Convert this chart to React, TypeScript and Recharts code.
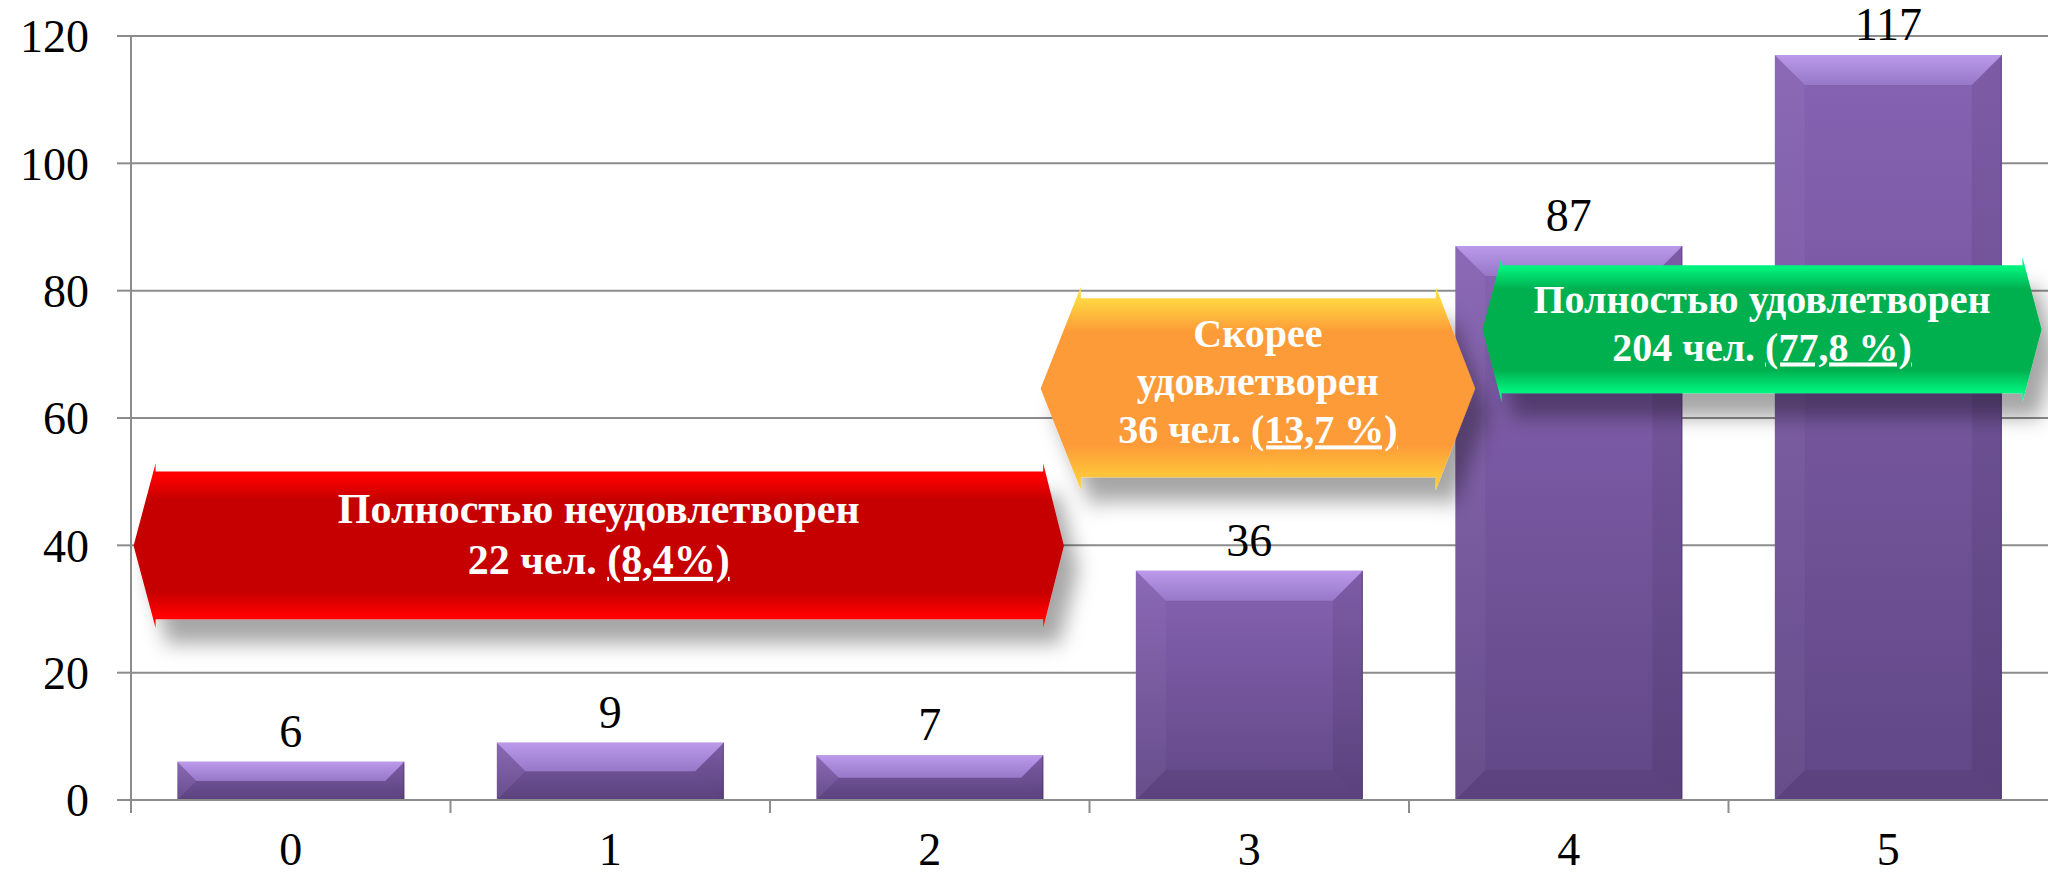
import React from 'react';
import { BarChart, Bar, XAxis, YAxis, CartesianGrid, LabelList, ReferenceArea } from 'recharts';

// ---------- data ----------
const categories = ['0', '1', '2', '3', '4', '5'];
const counts = [6, 9, 7, 36, 87, 117];
const yTicks = [0, 20, 40, 60, 80, 100, 120];

// annotation arrows: x in category units [tipL, baseL, baseR, tipR], y in value units [headTop, bodyTop, bodyBot, headBot]
const arrowX = [
  [0.008, 0.077, 2.855, 2.92],
  [2.847, 2.973, 4.084, 4.207],
  [4.23, 4.29, 5.92, 5.98],
];
const arrowY = [
  [52.9, 51.6, 28.4, 27.0],
  [80.6, 78.8, 50.7, 48.7],
  [85.3, 84.0, 63.9, 62.5],
];
type Seg = { t: string; u?: boolean };
const arrowLines: Seg[][][] = [
  [[{ t: 'Полностью неудовлетворен' }], [{ t: '22 чел. ' }, { t: '(8,4%)', u: true }]],
  [[{ t: 'Скорее' }], [{ t: 'удовлетворен' }], [{ t: '36 чел. ' }, { t: '(13,7 %)', u: true }]],
  [[{ t: 'Полностью удовлетворен' }], [{ t: '204 чел. ' }, { t: '(77,8 %)', u: true }]],
];

// ---------- styles ----------
const FONT = '"Liberation Serif", "Times New Roman", Times, serif';
const GRID = '#8c8c8c';
const W = 2048;
const H = 875;
const arrowStyle = [
  { grad: 'gRed', lh: 51, shift: -12, fs: 42 },
  { grad: 'gOrange', lh: 48, shift: -7, fs: 40 },
  { grad: 'gGreen', lh: 48, shift: -7, fs: 40 },
];

const data = categories.map((c, i) => ({ name: c, value: counts[i], u: i + 0.5 }));

const BevelBar = (p: any) => {
  const { x, y, width: w, height: h } = p;
  if (!h || h <= 0) return null;
  const b = Math.min(30, h / 2, w / 2);
  return (
    <g>
      <rect x={x} y={y} width={w} height={h} fill="url(#barBody)" />
      <polygon points={`${x},${y} ${x + b},${y + b} ${x + b},${y + h - b} ${x},${y + h}`} fill="#ffffff" fillOpacity={0.04} />
      <polygon points={`${x + w},${y} ${x + w},${y + h} ${x + w - b},${y + h - b} ${x + w - b},${y + b}`} fill="#000000" fillOpacity={0.07} />
      <polygon points={`${x},${y + h} ${x + b},${y + h - b} ${x + w - b},${y + h - b} ${x + w},${y + h}`} fill="#000000" fillOpacity={0.06} />
      <polygon points={`${x},${y} ${x + w},${y} ${x + w - b},${y + b} ${x + b},${y + b}`} fill="url(#barTop)" />
      <line x1={x + w - 0.5} y1={y} x2={x + w - 0.5} y2={y + h} stroke="#3e2d5a" strokeOpacity={0.5} strokeWidth={1} />
    </g>
  );
};

const makeArrow = (idx: number) => (props: any) => {
  const { x, y, width, height } = props;
  const gx = arrowX[idx];
  const gy = arrowY[idx];
  const st = arrowStyle[idx];
  const px = (u: number) => x + ((u - gx[0]) / (gx[3] - gx[0])) * width;
  const py = (v: number) => y + ((gy[0] - v) / (gy[0] - gy[3])) * height;
  const xl = px(gx[0]);
  const xbl = px(gx[1]);
  const xbr = px(gx[2]);
  const xr = px(gx[3]);
  const yht = py(gy[0]);
  const ybt = py(gy[1]);
  const ybb = py(gy[2]);
  const yhb = py(gy[3]);
  const cy = (yht + yhb) / 2;
  const cx = (xl + xr) / 2;
  const pts = [
    [xl, cy], [xbl, yht], [xbl, ybt], [xbr, ybt], [xbr, yht], [xr, cy],
    [xbr, yhb], [xbr, ybb], [xbl, ybb], [xbl, yhb],
  ].map((q) => q.join(',')).join(' ');
  const lines = arrowLines[idx];
  const n = lines.length;
  const fs = st.fs;
  return (
    <g>
      <polygon points={pts} fill={`url(#${st.grad})`} filter="url(#shadow)" />
      {lines.map((segs, i) => (
        <text
          key={i}
          x={cx}
          y={cy + st.shift + (i - (n - 1) / 2) * st.lh + 0.35 * fs}
          textAnchor="middle"
          fill="#ffffff"
          fontFamily={FONT}
          fontWeight="bold"
          fontSize={fs}
        >
          {segs.map((s, j) => (
            <tspan
              key={j}
              style={s.u ? { textDecoration: 'underline', textDecorationSkipInk: 'none' as any } : undefined}
            >
              {s.t}
            </tspan>
          ))}
        </text>
      ))}
    </g>
  );
};

const XTick = (p: any) => {
  const { x, y, payload } = p;
  const half = payload && typeof payload.offset === 'number' && payload.offset > 0 ? payload.offset : (W - 131) / categories.length / 2;
  return (
    <g>
      <line x1={x - half} y1={y} x2={x - half} y2={y + 13} stroke={GRID} strokeWidth={2} />
      <text x={x} y={y + 32} dy="0.71em" textAnchor="middle" fontFamily={FONT} fontSize={46} fill="#000">
        {payload.value}
      </text>
    </g>
  );
};

export default function App() {
  return (
    <div style={{ position: 'absolute', left: 0, top: 0, width: W, height: H, background: '#fff' }}>
      <BarChart width={W} height={H} data={data} margin={{ top: 36, right: 0, bottom: 0, left: 0 }} barCategoryGap="14.5%">
        <defs>
          <linearGradient id="barBody" x1="0" y1="0" x2="0" y2="1">
            <stop offset="0%" stopColor="#8763b3" />
            <stop offset="100%" stopColor="#614786" />
          </linearGradient>
          <linearGradient id="barTop" x1="0" y1="0" x2="0" y2="1">
            <stop offset="0%" stopColor="#bb9aec" />
            <stop offset="100%" stopColor="#9677c8" />
          </linearGradient>
          <linearGradient id="gRed" x1="0" y1="0" x2="0" y2="1">
            <stop offset="0%" stopColor="#ff1010" />
            <stop offset="8%" stopColor="#ff0000" />
            <stop offset="22%" stopColor="#c60000" />
            <stop offset="78%" stopColor="#c60000" />
            <stop offset="92%" stopColor="#ff0000" />
            <stop offset="100%" stopColor="#ff1010" />
          </linearGradient>
          <linearGradient id="gOrange" x1="0" y1="0" x2="0" y2="1">
            <stop offset="0%" stopColor="#ffe050" />
            <stop offset="8%" stopColor="#ffd040" />
            <stop offset="22%" stopColor="#fd9b38" />
            <stop offset="78%" stopColor="#fd9b38" />
            <stop offset="92%" stopColor="#ffc23a" />
            <stop offset="100%" stopColor="#ffd040" />
          </linearGradient>
          <linearGradient id="gGreen" x1="0" y1="0" x2="0" y2="1">
            <stop offset="0%" stopColor="#00ff88" />
            <stop offset="8%" stopColor="#00f07c" />
            <stop offset="22%" stopColor="#00b050" />
            <stop offset="78%" stopColor="#00b050" />
            <stop offset="92%" stopColor="#00f07c" />
            <stop offset="100%" stopColor="#00ff88" />
          </linearGradient>
          <filter id="shadow" x="-10%" y="-30%" width="130%" height="180%">
            <feDropShadow dx="14" dy="24" stdDeviation="10" floodColor="#000" floodOpacity="0.35" />
          </filter>
        </defs>
        <CartesianGrid vertical={false} stroke={GRID} strokeWidth={2} />
        <XAxis
          xAxisId="cat"
          dataKey="name"
          type="category"
          height={75}
          axisLine={{ stroke: GRID, strokeWidth: 2 }}
          tickLine={false}
          tickSize={0}
          tickMargin={0}
          tick={<XTick />}
          interval={0}
        />
        <XAxis xAxisId="u" dataKey="u" type="number" domain={[0, 6]} hide allowDataOverflow />
        <YAxis
          width={131}
          domain={[0, 120]}
          ticks={yTicks}
          interval={0}
          axisLine={{ stroke: GRID, strokeWidth: 2 }}
          tickLine={{ stroke: GRID, strokeWidth: 2 }}
          tickSize={14}
          tickMargin={28}
          tick={{ fontFamily: FONT, fontSize: 46, fill: '#000' }}
        />
        <Bar xAxisId="cat" dataKey="value" shape={BevelBar} isAnimationActive={false}>
          <LabelList dataKey="value" position="top" offset={15} style={{ fontFamily: FONT, fontSize: 46, fill: '#000' }} />
        </Bar>
        {arrowX.map((gx, i) => (
          <ReferenceArea
            key={i}
            xAxisId="u"
            x1={gx[0]}
            x2={gx[3]}
            y1={arrowY[i][3]}
            y2={arrowY[i][0]}
            ifOverflow="visible"
            zIndex={350}
            shape={makeArrow(i)}
          />
        ))}
      </BarChart>
    </div>
  );
}
